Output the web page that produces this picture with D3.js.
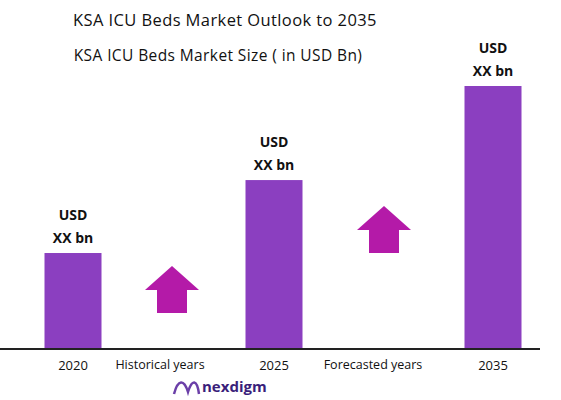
<!DOCTYPE html><html><head><meta charset="utf-8"><script src="https://cdn.jsdelivr.net/npm/d3@7"></script>
<style>body{margin:0;background:#fff}text{font-family:"Open Sans",Lato,sans-serif}</style></head><body><svg width="561" height="400"></svg>
<script>
const categories=["2020","2025","2035"];
const values=[1.0,1.76,2.74];
const valueLabels=["USD","USD","USD"];
const valueLabels2=["XX bn","XX bn","XX bn"];
const periodLabels=["Historical years","Forecasted years"];
const svg=d3.select("svg");
const base=349;
const x=d3.scaleOrdinal().domain(categories).range([73,274,493]);
const y=d3.scaleLinear().domain([0,2.74]).range([base,86]);
const bw=57;
svg.append("text").attr("x",225).attr("y",26).attr("text-anchor","middle").attr("font-size",16.5).attr("letter-spacing",0.4).attr("fill","#111").text("KSA ICU Beds Market Outlook to 2035");
svg.append("text").attr("x",218).attr("y",61).attr("text-anchor","middle").attr("font-size",15.5).attr("letter-spacing",0.4).attr("fill","#111").text("KSA ICU Beds Market Size  ( in USD Bn)");
svg.selectAll("rect.b").data(categories).join("rect").attr("x",d=>x(d)-bw/2).attr("width",bw).attr("y",(d,i)=>y(values[i])).attr("height",(d,i)=>base-y(values[i])).attr("fill","#8B3FC0");
svg.selectAll("text.u").data(categories).join("text").attr("x",d=>x(d)).attr("y",(d,i)=>y(values[i])-33).attr("text-anchor","middle").attr("font-weight","bold").attr("font-size",14).attr("fill","#111").text((d,i)=>valueLabels[i]);
svg.selectAll("text.v").data(categories).join("text").attr("x",d=>x(d)).attr("y",(d,i)=>y(values[i])-10).attr("text-anchor","middle").attr("font-weight","bold").attr("font-size",14).attr("fill","#111").text((d,i)=>valueLabels2[i]);
svg.append("line").attr("x1",0).attr("x2",540).attr("y1",base).attr("y2",base).attr("stroke","#222").attr("stroke-width",2);
svg.selectAll("text.c").data(categories).join("text").attr("x",d=>x(d)).attr("y",370).attr("text-anchor","middle").attr("font-size",13).attr("fill","#111").text(d=>d);
[[160,periodLabels[0]],[373,periodLabels[1]]].forEach(([cx,t])=>svg.append("text").attr("x",cx).attr("y",369).attr("text-anchor","middle").attr("font-size",12.5).attr("fill","#111").text(t));
function arrow(cx,top){const p=[[cx,top],[cx+27,top+24],[cx+15,top+24],[cx+15,top+47],[cx-15,top+47],[cx-15,top+24],[cx-27,top+24]];
svg.append("polygon").attr("points",p.map(q=>q.join(",")).join(" ")).attr("fill","#B41AA8");}
arrow(172,266);arrow(384,206);
svg.append("text").attr("x",202).attr("y",392).attr("font-size",15).attr("font-weight","bold").attr("fill","#3A1E7A").text("nexdigm");
svg.append("path").attr("d","M174,394 C178,379 184,379 188,392 C192,379 197,379 199,394").attr("fill","none").attr("stroke","#6B3FA8").attr("stroke-width",2.5);
</script></body></html>
